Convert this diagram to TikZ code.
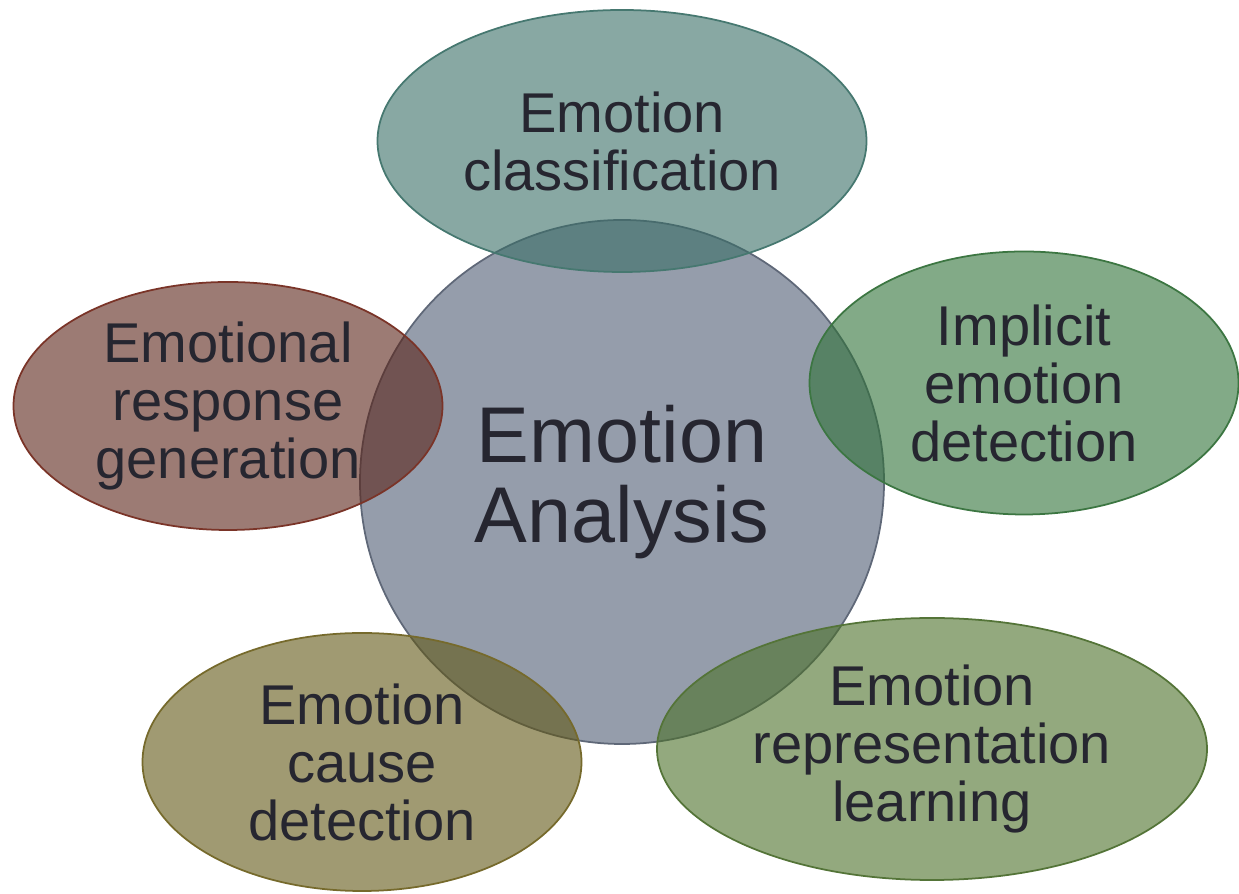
\documentclass[tikz,border=0pt]{standalone}
\usepackage{fontspec}
\setmainfont{Liberation Sans}
\usepackage{tikz}
\usetikzlibrary{shapes.geometric}

\definecolor{txtcol}{RGB}{38,38,48}
\definecolor{hubfill}{RGB}{149,157,171}
\definecolor{hubline}{RGB}{95,104,120}
\definecolor{clsfill}{RGB}{57,110,102}
\definecolor{clsline}{RGB}{70,120,112}
\definecolor{genfill}{RGB}{90,35,23}
\definecolor{genline}{RGB}{122,52,40}
\definecolor{impfill}{RGB}{47,113,55}
\definecolor{impline}{RGB}{60,118,66}
\definecolor{caufill}{RGB}{97,87,20}
\definecolor{cauline}{RGB}{118,106,44}
\definecolor{repfill}{RGB}{75,112,40}
\definecolor{repline}{RGB}{84,116,56}

\tikzset{
	topic/.style={shape=ellipse, line width=1pt, fill opacity=0.6, text opacity=1, inner sep=0pt, align=center, text=txtcol, font=\fontsize{31.9}{33}\selectfont},
	hub/.style={shape=circle, draw=hubline, fill=hubfill, line width=1pt, inner sep=0pt, align=center, text=txtcol, font=\fontsize{45}{46}\selectfont},
}

\begin{document}
\begin{tikzpicture}
	
	\useasboundingbox (0, 0) rectangle (24.78, 17.88);
	
	\node[hub, minimum size=10.48cm] (ana) at (12.44, 8.24) {Emotion\\Analysis};
	
	\node[topic, draw=clsline, fill=clsfill, minimum width=9.78cm, minimum height=5.24cm] (cls) at (12.44, 15.06) {Emotion\\classification};
	\node[topic, draw=genline, fill=genfill, minimum width=8.58cm, minimum height=4.96cm] (gen) at (4.56, 9.76) {Emotional\\response\\generation};
	\node[topic, draw=impline, fill=impfill, minimum width=8.58cm, minimum height=5.26cm] (imp) at (20.48, 10.22) {Implicit\\emotion\\detection};
	\node[topic, draw=cauline, fill=caufill, minimum width=8.78cm, minimum height=5.16cm] (cau) at (7.24, 2.64) {Emotion\\cause\\detection};
	\node[topic, draw=repline, fill=repfill, minimum width=11.0cm, minimum height=5.24cm] (rep) at (18.64, 2.90) {Emotion\\representation\\learning};
	
\end{tikzpicture}
\end{document}
